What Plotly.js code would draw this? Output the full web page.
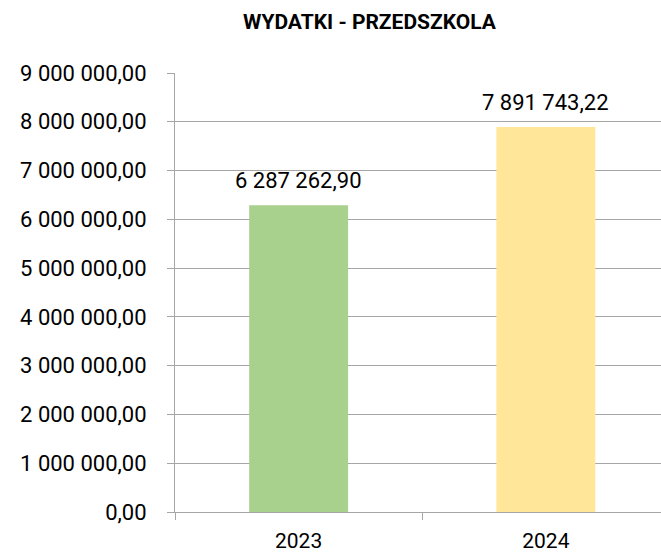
<!DOCTYPE html>
<html>
<head>
<meta charset="utf-8">
<script src="https://cdn.plot.ly/plotly-3.0.1.min.js"></script>
<style>
html,body{margin:0;padding:0;background:#fff;overflow:hidden;}
#chart{width:661px;height:554px;}
</style>
</head>
<body>
<div id="chart"></div>
<script>
var categories = ["2023", "2024"];
var values = [6287262.90, 7891743.22];
var barColors = ["#A9D18E", "#FFE699"];
var chartTitle = "WYDATKI - PRZEDSZKOLA";

var FONT = "Roboto, sans-serif";

function fmt(v) {
  var parts = v.toFixed(2).split(".");
  var intPart = parts[0].replace(/\B(?=(\d{3})+(?!\d))/g, " ");
  return intPart + "," + parts[1];
}

var trace = {
  type: "bar",
  x: categories,
  y: values,
  width: 0.4,
  marker: {color: barColors, line: {width: 0}},
  hoverinfo: "none"
};

var annotations = categories.map(function (c, i) {
  return {
    x: i, y: values[i], xref: "x", yref: "y",
    text: fmt(values[i]),
    showarrow: false,
    yanchor: "middle", xanchor: "center",
    yshift: 25,
    font: {family: FONT, size: 22, color: "#000"}
  };
});
annotations.push({
  xref: "paper", yref: "paper",
  x: (369.5 - 174.5) / (661 - 174.5), y: 1,
  yshift: 51.5,
  xanchor: "center", yanchor: "middle",
  text: "<b>" + chartTitle + "</b>",
  showarrow: false,
  font: {family: FONT, size: 21, color: "#000"}
});

var layout = {
  width: 661, height: 554,
  margin: {l: 174.5, r: 0, t: 73, b: 42},
  paper_bgcolor: "#fff", plot_bgcolor: "#fff",
  separators: ", ",
  showlegend: false,
  font: {family: FONT, size: 22, color: "#000"},
  xaxis: {
    type: "category",
    range: [-0.5, 1.4657],
    tickson: "boundaries",
    ticks: "outside", ticklen: 7, tickcolor: "#a6a6a6", tickwidth: 1,
    showline: true, linecolor: "#a6a6a6", linewidth: 1,
    showgrid: false, zeroline: false,
    ticklabelstandoff: 10,
    tickfont: {family: FONT, size: 21, color: "#000"},
    fixedrange: true
  },
  yaxis: {
    range: [0, 9000000],
    dtick: 1000000, tick0: 0,
    tickformat: ",.2f",
    ticks: "outside", ticklen: 7, tickcolor: "#a6a6a6", tickwidth: 1,
    showline: true, linecolor: "#a6a6a6", linewidth: 1,
    showgrid: true, gridcolor: "#a6a6a6", gridwidth: 1,
    zeroline: false,
    ticklabelstandoff: 16,
    tickfont: {family: FONT, size: 22, color: "#000"},
    fixedrange: true
  },
  annotations: annotations
};

Plotly.newPlot("chart", [trace], layout, {displayModeBar: false, staticPlot: true});
</script>
</body>
</html>
